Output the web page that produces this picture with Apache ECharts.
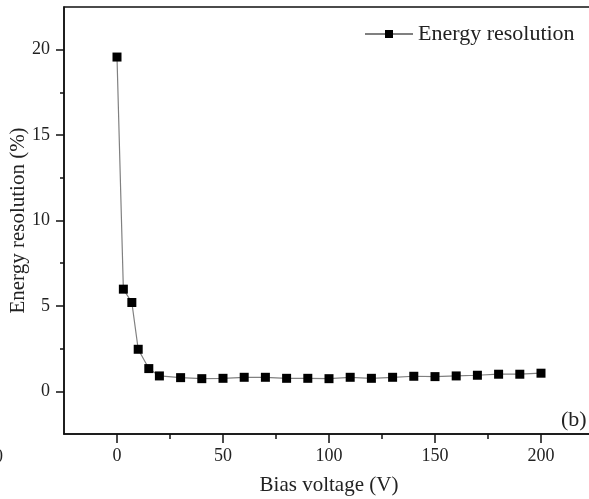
<!DOCTYPE html>
<html><head><meta charset="utf-8">
<script src="https://cdn.jsdelivr.net/npm/echarts@6/dist/echarts.min.js"></script>
<style>html,body{margin:0;padding:0;background:#fff}#c{width:589px;height:499px}</style>
</head><body><div id="c"></div>
<script>
var biasVoltage = [0, 3, 7, 10, 15, 20, 30, 40, 50, 60, 70, 80, 90, 100, 110, 120, 130, 140, 150, 160, 170, 180, 190, 200];
var energyResolution = [19.57, 5.98, 5.2, 2.46, 1.33, 0.9, 0.8, 0.74, 0.76, 0.82, 0.82, 0.76, 0.76, 0.74, 0.82, 0.76, 0.82, 0.88, 0.86, 0.9, 0.94, 1.0, 1.0, 1.06];
var xMajorTicks = [0, 50, 100, 150, 200];
var xMinorTicks = [25, 75, 125, 175];
var yMajorTicks = [0, 5, 10, 15, 20];
var yMinorTicks = [2.5, 7.5, 12.5, 17.5];
var seriesName = 'Energy resolution';

var FONT = '"Liberation Serif", "Times New Roman", serif';
var TXT = '#222';
var chart = echarts.init(document.getElementById('c'), null, {renderer: 'canvas'});
var pairs = biasVoltage.map(function (v, i) { return [v, energyResolution[i]]; });
var axisLine = {show: true, onZero: false, lineStyle: {color: '#111', width: 1.5}};
chart.setOption({
  animation: false,
  backgroundColor: '#fff',
  grid: {left: 64, top: 7, right: -5, bottom: 65, containLabel: false, outerBoundsMode: 'none',
         show: true, borderColor: '#111', borderWidth: 1.5},
  legend: {
    left: 359, top: 18, itemWidth: 48, itemHeight: 10, itemGap: 6,
    textStyle: {fontFamily: FONT, fontSize: 22, color: TXT},
    data: [seriesName]
  },
  xAxis: [{
    type: 'value', min: -25, max: 225, position: 'bottom',
    name: 'Bias voltage (V)', nameLocation: 'middle', nameGap: 41, nameMoveOverlap: false,
    nameTextStyle: {fontFamily: FONT, fontSize: 21, color: TXT},
    axisLine: axisLine, splitLine: {show: false},
    axisTick: {show: true, inside: false, length: 9, customValues: xMajorTicks, lineStyle: {color: '#111', width: 1.5}},
    axisLabel: {customValues: xMajorTicks, margin: 13, fontFamily: FONT, fontSize: 18, color: TXT}
  }, {
    type: 'value', min: -25, max: 225, position: 'bottom',
    axisLine: {show: false, onZero: false}, splitLine: {show: false},
    axisTick: {show: true, inside: false, length: 5, customValues: xMinorTicks, lineStyle: {color: '#111', width: 1.5}},
    axisLabel: {show: false}
  }],
  yAxis: [{
    type: 'value', min: -2.5, max: 22.5, position: 'left',
    name: 'Energy resolution (%)', nameLocation: 'middle', nameGap: 35, nameMoveOverlap: false,
    nameTextStyle: {fontFamily: FONT, fontSize: 21, color: TXT},
    axisLine: axisLine, splitLine: {show: false},
    axisTick: {show: true, inside: false, length: 8, customValues: yMajorTicks, lineStyle: {color: '#111', width: 1.5}},
    axisLabel: {customValues: yMajorTicks, margin: 14, fontFamily: FONT, fontSize: 18, color: TXT}
  }, {
    type: 'value', min: -2.5, max: 22.5, position: 'left',
    axisLine: {show: false, onZero: false}, splitLine: {show: false},
    axisTick: {show: true, inside: false, length: 4, customValues: yMinorTicks, lineStyle: {color: '#111', width: 1.5}},
    axisLabel: {show: false}
  }],
  series: [{
    name: seriesName, type: 'line', xAxisIndex: 0, yAxisIndex: 0,
    data: pairs, symbol: 'rect', symbolSize: 9,
    itemStyle: {color: '#000'},
    lineStyle: {color: '#808080', width: 1.2},
    emphasis: {disabled: true}
  }],
  graphic: [
    {type: 'text', left: 561, top: 409, style: {text: '(b)', fontFamily: FONT, fontSize: 22, fill: TXT}},
    {type: 'text', x: -6, y: 448, style: {text: '0', fontFamily: FONT, fontSize: 18, fill: TXT}}
  ]
});
</script></body></html>
